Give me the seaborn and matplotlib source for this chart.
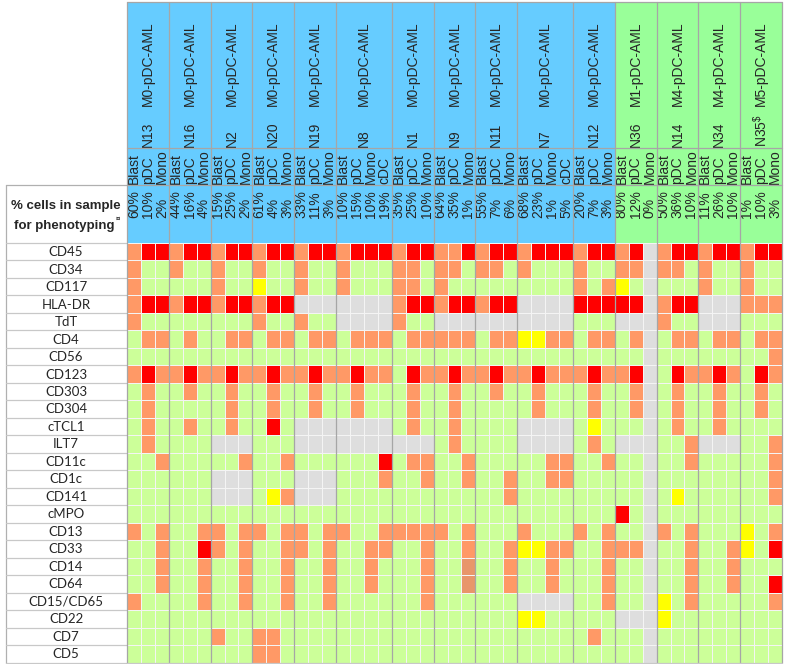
import numpy as np
import pandas as pd
import matplotlib
matplotlib.use('Agg')
import matplotlib.pyplot as plt
import seaborn as sns
from matplotlib.colors import ListedColormap
from matplotlib.patches import Rectangle

# header data
patients = ['N13', 'N16', 'N2', 'N20', 'N19', 'N8', 'N1', 'N9', 'N11', 'N7', 'N12',
            'N36', 'N14', 'N34', r'N35$^{\$}$']
subtypes = ['M0-pDC-AML'] * 11 + ['M1-pDC-AML', 'M4-pDC-AML', 'M4-pDC-AML', 'M5-pDC-AML']
populations = [['Blast', 'pDC', 'Mono']] * 5 + [['Blast', 'pDC', 'Mono', 'cDC']] + \
              [['Blast', 'pDC', 'Mono']] * 3 + [['Blast', 'pDC', 'Mono', 'cDC']] + \
              [['Blast', 'pDC', 'Mono']] * 5
percentages = [['60%', '10%', '2%'], ['44%', '16%', '4%'], ['15%', '25%', '2%'],
               ['61%', '4%', '3%'], ['33%', '11%', '3%'], ['10%', '15%', '10%', '19%'],
               ['35%', '25%', '10%'], ['64%', '35%', '1%'], ['55%', '7%', '6%'],
               ['68%', '23%', '1%', '5%'], ['20%', '7%', '3%'], ['80%', '12%', '0%'],
               ['50%', '36%', '10%'], ['11%', '26%', '10%'], ['1%', '10%', '3%']]

markers = ['CD45', 'CD34', 'CD117', 'HLA-DR', 'TdT', 'CD4', 'CD56', 'CD123', 'CD303',
           'CD304', 'cTCL1', 'ILT7', 'CD11c', 'CD1c', 'CD141', 'cMPO', 'CD13', 'CD33',
           'CD14', 'CD64', 'CD15/CD65', 'CD22', 'CD7', 'CD5']

# G = green, O = orange, R = red, Y = yellow, X = grey (not tested), B = dark orange
expression = [
    'ORR ORR ORR ORR ORR ORRR ORR OOR ORR ORRR ORR ORX ORR ORR ORR',
    'OGG OGG OGG OGG OGG OGGG OOG OOG OOG OGGG OGG OOX OOG OGG OGG',
    'OGG GGG OGG YGG OGG OGGG OOG OGG GGG GGGG OGO YGX GGG OGG OGG',
    'ORR ORR ORR ORR XXX XXXX ORR ORR ORR XXXX RRR RRX ORR XXX OOO',
    'OGG GGG GGG OGG OGG XXXX OGG XXX XXX XXXX GGG XXX OGG XXX GGG',
    'GOO GOG GOO GOO GOO GOOO GOO OOO GOO YYOO GOO GOX GOO GOO GOO',
    'GGG GGG GGG GGG GGG GGGG GGG GGG GGG GGGG GGG GGX GGG GGG GGO',
    'ORO ORO ORO ORO ORO OROO GRO ORO ORO OROO ORO ORX GRO ORO GRO',
    'GOG GOG GOG GOG GOG GOGG GOG GOG GOG GOGG GOG GOX GOG GOG GOG',
    'GOG GGG GOG GOG GOG GOGG GOG GOG GGG GOGG GOG GOX GOG GOG GOG',
    'GOG GOG GOG GRG XXX XXXX GOG GOG GGG XXXX GYG GGX GOG GOG GGG',
    'GOG GGG XXX GGG XXX XXXX XXX GOG GGG XXXX GOG XXX GGO XXX GGO',
    'GGO GGG GGO GGO GGG GGGR GOO GGO GGG GGOO GGO GGX GGO GGG GGO',
    'GGG GGG XXX GGG XXX GGGO GGO GGO GGO GGOO GGG GGX GGG GGG GGO',
    'GGG GGG XXX GYO XXX GGGG GGG GGG GGO GGGG GGG GGX GYG GGG GGO',
    'GGG GGG GGG GGG GGG GGGG GGG GGG GGG GGGG GGG RGX GGG GGG GGG',
    'OGO GGO OGO OGO OGO OGGO OOO OGO GGG OGGG OGO GGX OGO GGG YGO',
    'GGO GGR OGO GGO OGO GGOO GGO GGO GGO YYOO GGO OOX GGO GGO YGR',
    'GGO GGO GGO GGO GGO GGOG GGO GGB GGO GGOG GGO GGX GGO GGO GGG',
    'GGO GGO GGO GGO GGO GGOG GGO GGB GGO GGOG GGO GGX GGO GGO GGR',
    'OGG GGO GGO GGO GGO GGGG GGO GGG GGG XXXX GGO GGX YGO GGG GGO',
    'GGG GGG GGG GGG GGG GGGG GGG GGG GGG YYGG GGG XXX YGG GGG GGG',
    'GGG GGG OGG OOG GGG GGGG GGG GGG GGG GGGG GOG GGX GGG GGG GGG',
    'GGG GGG GGG OOG GGG GGGG GGG GGG GGG GGGG GGG GGX GGG GGG GGG',
]

codes = 'GORYXB'
palette = ['#ccff99', '#ff9966', '#ff0000', '#ffff00', '#dedede', '#e8966a']
header_colors = {'M0': '#66ccff', 'M1': '#99ff99', 'M4': '#99ff99', 'M5': '#99ff99'}

columns = [p + ' ' + s for p, pops in zip(patients, populations) for s in pops]
matrix = [[codes.index(c) for c in row.replace(' ', '')] for row in expression]
df = pd.DataFrame(matrix, index=markers, columns=columns)
assert df.shape == (24, 47)

sns.set_style('white')
plt.rcParams['font.family'] = ['Liberation Sans', 'DejaVu Sans']
plt.rcParams['mathtext.fontset'] = 'custom'
plt.rcParams['mathtext.rm'] = 'Liberation Sans'

W, H = 786, 664
fig = plt.figure(figsize=(W / 100, H / 100), dpi=100)

# pixel layout helpers
gx0, gx1, gy0, gy1, top = 127, 782, 243, 662.7, 2
cw = (gx1 - gx0) / df.shape[1]
rh = (gy1 - gy0) / df.shape[0]


def px_x(px):
    return (px - gx0) / cw


def px_y(py):
    return (py - gy0) / rh


ax = fig.add_axes([gx0 / W, 1 - gy1 / H, (gx1 - gx0) / W, (gy1 - top) / H])
sns.heatmap(df, cmap=ListedColormap(palette), vmin=-0.5, vmax=len(palette) - 0.5,
            cbar=False, linewidths=0.5, linecolor='#f4f4f4', xticklabels=False,
            yticklabels=False, ax=ax)
ax.set_ylim(df.shape[0], px_y(top))
ax.set_xlim(0, df.shape[1])
ax.set_xlabel('')
ax.set_ylabel('')
for s in ax.spines.values():
    s.set_visible(False)

line_col = '#a6a6a6'
y_top = px_y(top)
y_sub = px_y(148)
y_pct = px_y(185)
ncol = df.shape[1]
nrow = df.shape[0]
hdr_fs = 10

start = 0
starts = []
for p, sub, pops, pcts in zip(patients, subtypes, populations, percentages):
    n = len(pops)
    starts.append(start)
    ax.add_patch(Rectangle((start, y_top), n, -y_top, facecolor=header_colors[sub[:2]],
                           edgecolor='none', zorder=0))
    cx = start + n / 2
    ax.text(cx, px_y(21), sub, rotation=90, ha='center', va='top', fontsize=hdr_fs)
    ax.text(cx, px_y(147), p, rotation=90, ha='center', va='bottom', fontsize=hdr_fs)
    for j, (pop, pct) in enumerate(zip(pops, pcts)):
        ax.text(start + j + 0.5, px_y(184), pop, rotation=90, ha='center', va='bottom',
                fontsize=hdr_fs)
        ax.text(start + j + 0.5, px_y(218), pct, rotation=90, ha='center', va='bottom',
                fontsize=hdr_fs)
    start += n
starts.append(ncol)

# group separators and header lines
for s in starts:
    ax.plot([s, s], [y_top, nrow], color=line_col, lw=0.9, zorder=5, clip_on=False)
for yy in [y_top, y_sub, y_pct]:
    ax.plot([0, ncol], [yy, yy], color=line_col, lw=0.9, zorder=5, clip_on=False)
ax.plot([0, ncol], [nrow, nrow], color='#c8c8c8', lw=0.9, zorder=5, clip_on=False)

# left label table
lx = px_x(6)
ax.plot([lx, lx], [y_pct, nrow], color='#b0b0b0', lw=0.9, clip_on=False)
ax.plot([lx, 0], [y_pct, y_pct], color='#b0b0b0', lw=0.9, clip_on=False)
for i in range(nrow + 1):
    ax.plot([lx, 0], [i, i], color='#c8c8c8', lw=0.9, clip_on=False)
for i, m in enumerate(markers):
    ax.text(px_x(66), i + 0.52, m, ha='center', va='center', fontsize=9.5,
            family=['Lato', 'DejaVu Sans'], clip_on=False)

ax.text(px_x(66), px_y(206), '% cells in sample', ha='center', va='center',
        fontsize=9.5, fontweight='bold', clip_on=False)
ax.text(px_x(64), px_y(226), 'for phenotyping', ha='center', va='center',
        fontsize=9.5, fontweight='bold', clip_on=False)
ax.text(px_x(116), px_y(219), '¤', ha='left', va='center', fontsize=5.5,
        fontweight='bold', clip_on=False)

fig.savefig('out.png', dpi=100)
